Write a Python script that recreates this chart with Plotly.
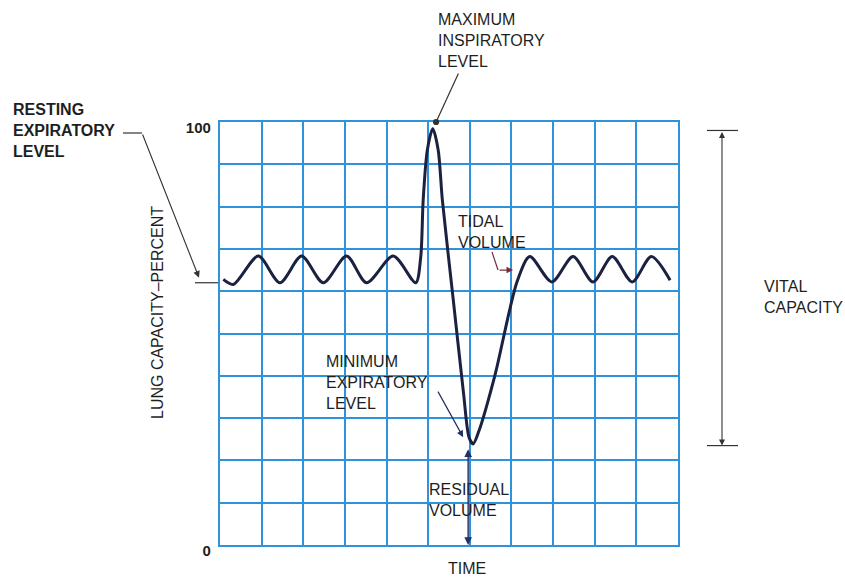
import plotly.graph_objects as go

# spirogram trace: time in grid columns, lung capacity in percent
time_cols = [0.08, 0.32, 0.92, 1.44, 1.96, 2.48, 3.04, 3.52, 4.16, 4.70,
             4.82, 4.88, 4.98, 5.11, 5.24, 5.34, 5.60, 5.85, 5.98, 6.08,
             6.22, 6.60, 7.14, 7.44, 7.97, 8.48, 8.96, 9.42, 9.90, 10.36, 10.81]
capacity_pct = [62.8, 61.6, 68.3, 62.0, 68.3, 62.0, 68.3, 62.0, 68.3, 62.0,
                68.0, 81.6, 93.4, 98.4, 93.4, 81.6, 58.2, 35.8, 25.5, 23.9,
                27.0, 40.0, 62.4, 68.2, 62.2, 68.2, 62.2, 68.2, 62.2, 68.2, 62.6]

MAX_LEVEL = 98
MIN_LEVEL = 23.5
RESTING_LEVEL = 62

grid_x = list(range(0, 12))
grid_y = list(range(0, 101, 10))
y_labels = ["0"] + [""] * 9 + ["100"]

W, H = 845, 580
L, R, T, B = 220, 167, 122, 35
PW, PH = W - L - R, H - T - B

BLUE = "#2e93dc"
INK = "#1e1e1e"
CURVE = "#1b2140"
FONT = "Liberation Sans"


def px(x):
    return (x - L) / PW


def py(y):
    return (H - B - y) / PH


def label(text, x, y, bold=False, **kw):
    d = dict(text=text, x=px(x), y=py(y), xref="paper", yref="paper", showarrow=False,
             xanchor="left", yanchor="top", align="left",
             font=dict(family=FONT, size=16, color=INK, weight="bold" if bold else "normal"))
    d.update(kw)
    return d


fig = go.Figure()
fig.add_trace(go.Scatter(x=time_cols, y=capacity_pct, mode="lines",
                         line=dict(color=CURVE, width=3, shape="spline", smoothing=0.8),
                         hoverinfo="skip"))

annotations = [
    label("MAXIMUM<br>INSPIRATORY<br>LEVEL", 436, 9),
    label("RESTING<br>EXPIRATORY<br>LEVEL", 11, 99, bold=True),
    label("TIDAL<br>VOLUME", 456, 211),
    label("MINIMUM<br>EXPIRATORY<br>LEVEL", 324, 351),
    label("RESIDUAL<br>VOLUME", 427, 479),
    label("VITAL<br>CAPACITY", 762, 276),
    label("TIME", 467, 568, xanchor="center", yanchor="middle"),
    label("LUNG CAPACITY–PERCENT", 157, 313, xanchor="center", yanchor="middle", textangle=-90),
]

tip_y = H - B - (RESTING_LEVEL + 1.2) / 100 * PH
arrows = [
    # maximum inspiratory level pointer
    dict(x=5.19, y=100, xref="x", yref="y", ax=23, ay=-50, arrowhead=6, arrowsize=1.3,
         arrowwidth=1.2, arrowcolor="#333"),
    # resting expiratory level pointer
    dict(x=px(199), y=(RESTING_LEVEL + 1.2) / 100, xref="paper", yref="paper",
         ax=142 - 199, ay=133 - tip_y, arrowhead=2, arrowsize=1.2, arrowwidth=1.1,
         arrowcolor="#333"),
    # tidal volume
    dict(x=7.04, y=65.0, xref="x", yref="y", ax=-15, ay=0, arrowhead=2, arrowsize=1.1,
         arrowwidth=1.2, arrowcolor="#7b2d3f"),
    # minimum expiratory level
    dict(x=5.84, y=25.5, xref="x", yref="y", ax=-26, ay=-47, arrowhead=2, arrowsize=1.1,
         arrowwidth=1.2, arrowcolor="#233060"),
    # residual volume
    dict(x=5.96, y=0, xref="x", yref="y", axref="x", ayref="y", ax=5.96, ay=MIN_LEVEL - 0.5,
         arrowhead=2, startarrowhead=2, arrowside="end+start", arrowsize=1.1,
         arrowwidth=1.4, arrowcolor="#233060"),
    # vital capacity
    dict(x=px(722), y=MIN_LEVEL / 100, xref="paper", yref="paper", ax=0,
         ay=-(MAX_LEVEL - MIN_LEVEL) / 100 * PH, arrowhead=2, startarrowhead=2,
         arrowside="end+start", arrowsize=1.1, arrowwidth=1.1, arrowcolor="#333"),
]
for a in arrows:
    a.setdefault("text", "")
    a["showarrow"] = True
    annotations.append(a)

shapes = [
    dict(type="line", xref="paper", yref="paper", x0=px(123), x1=px(142), y0=py(133), y1=py(133),
         line=dict(color="#333", width=1.2)),
    dict(type="line", xref="paper", yref="paper", x0=px(195), x1=px(218),
         y0=RESTING_LEVEL / 100, y1=RESTING_LEVEL / 100, line=dict(color="#333", width=1.2)),
    dict(type="line", xref="paper", yref="paper", x0=px(492), x1=px(498), y0=py(252), y1=py(270),
         line=dict(color="#7b2d3f", width=1.2)),
    dict(type="line", xref="paper", yref="paper", x0=px(707), x1=px(738),
         y0=MAX_LEVEL / 100, y1=MAX_LEVEL / 100, line=dict(color="#333", width=1.2)),
    dict(type="line", xref="paper", yref="paper", x0=px(707), x1=px(738),
         y0=MIN_LEVEL / 100, y1=MIN_LEVEL / 100, line=dict(color="#333", width=1.2)),
]

fig.update_layout(
    width=W, height=H,
    margin=dict(l=L, r=R, t=T, b=B),
    paper_bgcolor="white", plot_bgcolor="white",
    showlegend=False,
    annotations=annotations,
    shapes=shapes,
    xaxis=dict(range=[0, 11], tickvals=grid_x, showticklabels=False, ticks="",
               showgrid=True, gridcolor=BLUE, gridwidth=2.3, zeroline=False,
               showline=True, mirror=True, linecolor=BLUE, linewidth=2.3),
    yaxis=dict(range=[0, 100], tickvals=grid_y, ticktext=y_labels, ticks="",
               showgrid=True, gridcolor=BLUE, gridwidth=2.3, zeroline=False,
               showline=True, mirror=True, linecolor=BLUE, linewidth=2.3,
               ticklabelstandoff=4, ticklabelshift=6,
               tickfont=dict(family=FONT, size=15, color=INK, weight="bold")),
)

fig.write_html("out.html", config={"displayModeBar": False},
               post_script="document.body.style.margin = '0';")
